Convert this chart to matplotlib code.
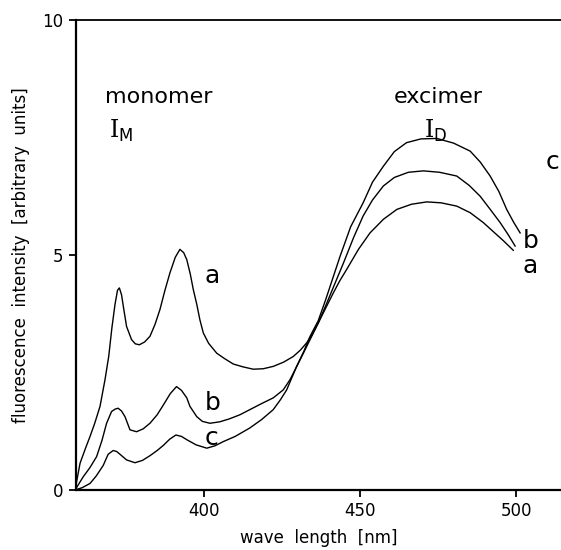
import matplotlib
matplotlib.use("Agg")
import matplotlib.pyplot as plt

plt.rcParams['font.family'] = ['DejaVu Sans']
plt.rcParams['mathtext.fontset'] = 'custom'
plt.rcParams['mathtext.rm'] = 'DejaVu Serif'
plt.rcParams['mathtext.sf'] = 'DejaVu Sans'

# ---- data ----
a_x = [358.7, 360.3, 362.0, 363.5, 365.0, 366.7, 368.3, 369.5, 370.5, 371.5, 372.3, 372.9,
       373.6, 374.3, 375.2, 376.8, 378.0, 379.3, 381.0, 382.7, 384.3, 385.9, 387.5, 389.1,
       390.8, 392.3, 393.5, 394.5, 395.6, 396.6, 397.7, 398.7, 399.8, 401.5, 404.1, 406.5,
       409.4, 412.5, 415.8, 419.0, 422.2, 425.5, 428.6, 430.8, 432.9, 434.6, 436.6, 439.0,
       441.5, 443.5, 445.7, 449.5, 453.2, 457.5, 461.8, 466.5, 471.4, 476.0, 481.0, 485.3,
       489.5, 493.0, 496.0, 499.1]
a_y = [0.0, 0.57, 0.88, 1.14, 1.42, 1.78, 2.35, 2.85, 3.45, 3.95, 4.25, 4.30,
       4.15, 3.85, 3.48, 3.20, 3.11, 3.09, 3.15, 3.27, 3.52, 3.84, 4.25, 4.62,
       4.95, 5.12, 5.05, 4.90, 4.60, 4.26, 3.95, 3.62, 3.34, 3.12, 2.91, 2.80,
       2.68, 2.62, 2.57, 2.58, 2.63, 2.72, 2.84, 2.97, 3.13, 3.30, 3.55, 3.87,
       4.20, 4.45, 4.69, 5.12, 5.47, 5.76, 5.97, 6.08, 6.13, 6.11, 6.04, 5.90,
       5.69, 5.48, 5.30, 5.10]

b_x = [358.7, 361.3, 363.5, 365.6, 367.3, 368.8, 370.4, 371.5, 372.5, 373.6, 374.7, 376.3,
       378.4, 380.5, 382.7, 385.0, 387.0, 389.2, 391.2, 392.8, 394.5, 395.5, 397.7, 399.5,
       401.9, 405.0, 408.0, 411.5, 415.0, 418.5, 422.2, 425.4, 427.6, 430.8, 434.0, 436.6,
       439.0, 441.5, 444.7, 448.0, 451.0, 454.0, 457.5, 461.0, 465.5, 470.3, 475.5, 481.0,
       485.0, 488.5, 491.5, 494.9, 497.5, 499.7]
b_y = [0.0, 0.28, 0.48, 0.71, 1.05, 1.42, 1.67, 1.72, 1.74, 1.68, 1.56, 1.28,
       1.24, 1.30, 1.42, 1.60, 1.81, 2.05, 2.20, 2.12, 1.96, 1.78, 1.56, 1.46,
       1.42, 1.45, 1.51, 1.60, 1.72, 1.84, 1.96, 2.13, 2.35, 2.77, 3.20, 3.55,
       3.92, 4.32, 4.83, 5.38, 5.83, 6.17, 6.47, 6.65, 6.76, 6.79, 6.76, 6.68,
       6.48, 6.25, 5.99, 5.69, 5.43, 5.19]

c_x = [358.7, 361.0, 363.5, 365.5, 367.7, 369.3, 370.9, 372.0, 373.1, 375.2, 377.9, 380.3,
       382.7, 385.0, 387.0, 389.0, 391.0, 392.8, 394.5, 397.5, 400.9, 403.5, 406.2, 410.0,
       414.7, 418.5, 422.2, 424.5, 426.5, 429.7, 432.0, 434.0, 436.6, 439.0, 441.5, 443.6,
       447.0, 451.0, 454.0, 457.5, 461.0, 464.9, 469.5, 474.6, 480.0, 485.3, 488.5, 491.7,
       494.5, 497.0, 499.2, 501.3]
c_y = [0.0, 0.05, 0.14, 0.30, 0.52, 0.76, 0.84, 0.82, 0.76, 0.64, 0.58, 0.63,
       0.73, 0.84, 0.95, 1.08, 1.17, 1.14, 1.07, 0.96, 0.89, 0.94, 1.03, 1.14,
       1.32, 1.50, 1.71, 1.92, 2.13, 2.63, 2.95, 3.27, 3.60, 4.05, 4.55, 4.97,
       5.60, 6.11, 6.55, 6.89, 7.20, 7.39, 7.47, 7.48, 7.38, 7.21, 6.98, 6.68,
       6.35, 5.97, 5.70, 5.47]

x_ticks = [400, 450, 500]
y_ticks = [0, 5, 10]

fig = plt.figure(figsize=(5.61, 5.5), dpi=100)
ax = fig.add_axes([76/561, 1 - 490/550, (561 - 76)/561, (490 - 20)/550])

for xs, ys in ((a_x, a_y), (b_x, b_y), (c_x, c_y)):
    ax.plot(xs, ys, color='black', lw=1.0, solid_joinstyle='round')

ax.set_xlim(359, 514.4)
ax.set_ylim(0, 10)
ax.set_xticks(x_ticks)
ax.set_yticks(y_ticks)
ax.tick_params(direction='out', length=5, width=1.3, labelsize=12, pad=4)

for s in ('left', 'bottom'):
    ax.spines[s].set_linewidth(1.6)
ax.spines['top'].set_linewidth(1.3)
ax.spines['right'].set_visible(False)

ax.set_xlabel('wave  length  [nm]', fontsize=12, labelpad=6)
ax.set_ylabel('fluorescence  intensity  [arbitrary  units]', fontsize=12, labelpad=9)

# annotations
ax.text(368.4, 8.24, 'monomer', fontsize=16, ha='left', va='baseline')
ax.text(369.6, 7.5, r'$\mathrm{I}_{\mathsf{M}}$', fontsize=17, ha='left', va='baseline')
ax.text(460.8, 8.24, 'excimer', fontsize=16, ha='left', va='baseline')
ax.text(470.5, 7.5, r'$\mathrm{I}_{\mathsf{D}}$', fontsize=17, ha='left', va='baseline')

lab_fs = 18
ax.text(400.3, 4.41, 'a', fontsize=lab_fs, ha='left', va='baseline')
ax.text(400.3, 1.71, 'b', fontsize=lab_fs, ha='left', va='baseline')
ax.text(400.3, 0.96, 'c', fontsize=lab_fs, ha='left', va='baseline')
ax.text(509.6, 6.82, 'c', fontsize=lab_fs, ha='left', va='baseline', clip_on=False)
ax.text(502.2, 5.15, 'b', fontsize=lab_fs, ha='left', va='baseline')
ax.text(502.2, 4.62, 'a', fontsize=lab_fs, ha='left', va='baseline')

fig.savefig('out.png', dpi=100)
